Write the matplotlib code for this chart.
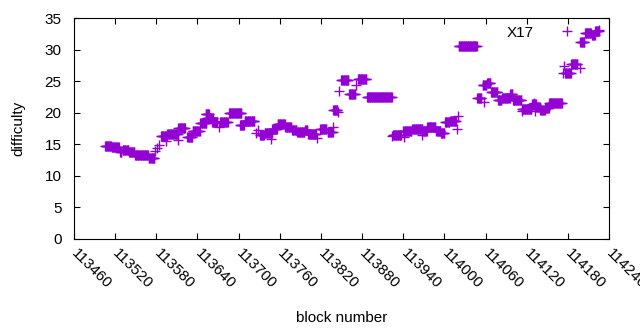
import numpy as np
import matplotlib
matplotlib.use("Agg")
import matplotlib.pyplot as plt

plt.rcParams['font.family'] = ['Liberation Sans', 'DejaVu Sans']
plt.rcParams['font.size'] = 11

# runs of blocks sharing one difficulty: [start, end) block, difficulty
run_start = [113505, 113515, 113527, 113531, 113540, 113549, 113569, 113587, 113596, 113612,
             113625, 113633, 113644, 113652, 113654, 113661, 113673, 113686, 113702, 113709,
             113731, 113738, 113749, 113757, 113768, 113778, 113785, 113797, 113801, 113819,
             113830, 113838, 113849, 113861, 113874, 113887, 113925, 113940, 113953, 113969,
             113975, 113988, 113995, 114001, 114008, 114021, 114048, 114056, 114062, 114068,
             114078, 114084, 114096, 114100, 114113, 114128, 114134, 114140, 114147, 114153,
             114176, 114185, 114198, 114205, 114215, 114220]
run_end = [113515, 113526, 113530, 113540, 113549, 113569, 113578, 113596, 113612, 113623,
           113633, 113644, 113654, 113658, 113663, 113670, 113685, 113705, 113709, 113724,
           113738, 113749, 113757, 113768, 113778, 113785, 113797, 113801, 113814, 113829,
           113838, 113845, 113861, 113871, 113887, 113924, 113938, 113953, 113969, 113975,
           113988, 113995, 114001, 114008, 114018, 114048, 114055, 114062, 114068, 114078,
           114084, 114096, 114100, 114113, 114128, 114134, 114140, 114147, 114153, 114172,
           114185, 114195, 114205, 114215, 114220, 114226]
run_diff = [14.7, 14.6, 13.8, 14.1, 13.8, 13.3, 12.8, 16.3, 16.6, 17.6,
            16.2, 17.1, 18.4, 19.8, 19.2, 18.5, 18.5, 20.0, 18.1, 18.7,
            16.5, 16.8, 17.4, 18.2, 17.7, 17.3, 16.9, 17.3, 16.6, 17.4,
            16.9, 20.4, 25.2, 23.0, 25.3, 22.5, 16.5, 17.1, 17.4, 17.1,
            17.7, 17.1, 16.8, 18.5, 18.7, 30.6, 22.3, 24.4, 24.7, 23.3,
            22.0, 22.3, 23.0, 22.0, 20.6, 21.4, 20.9, 20.4, 20.7, 21.5,
            26.3, 27.7, 31.2, 32.6, 32.3, 33.0]

# single outlying blocks
single_block = [113578, 113581, 113584, 113594, 113611, 113671, 113725, 113728, 113747, 113814,
                113838, 113845, 113847, 113871, 113924, 113941, 113967, 114018, 114020, 114058,
                114113, 114131, 114132, 114173, 114175, 114198, 114226]
single_diff = [13.9, 14.4, 14.9, 15.5, 15.6, 17.7, 16.8, 17.3, 15.8, 16.0,
               17.7, 20.1, 23.4, 24.4, 16.3, 16.2, 16.5, 17.4, 19.5, 21.7,
               20.3, 21.5, 20.2, 26.3, 27.4, 27.1, 33.1]

blocks = []
diffs = []
for s, e, d in zip(run_start, run_end, run_diff):
    b = np.arange(s, e)
    blocks.extend(b)
    diffs.extend([d] * len(b))
blocks.extend(single_block)
diffs.extend(single_diff)
order = np.argsort(blocks, kind='stable')
blocks = np.array(blocks)[order]
diffs = np.array(diffs)[order]

fig = plt.figure(figsize=(6.4, 3.3), dpi=100)
ax = fig.add_axes([74 / 640, 91 / 330, 535 / 640, 221 / 330])

ax.plot(blocks, diffs, linestyle='none', marker='+', ms=6.5, mew=1.0,
        color='#9400d3', label='X17')

ax.set_xlim(113460, 114240)
ax.set_ylim(0, 35)
ax.set_xticks(np.arange(113460, 114241, 60))
ax.set_yticks(np.arange(0, 36, 5))
ax.tick_params(direction='in', length=4, width=0.8, top=True, right=True, colors='black')
ax.tick_params(axis='x', pad=9)
ax.tick_params(axis='y', pad=9)
for lab in ax.get_xticklabels():
    lab.set_rotation(-45)
    lab.set_ha('left')
    lab.set_va('center')
    lab.set_rotation_mode('anchor')
for sp in ax.spines.values():
    sp.set_linewidth(0.8)

ax.set_xlabel('block number', labelpad=14)
ax.set_ylabel('difficulty', labelpad=14)

ax.legend(loc='upper right', bbox_to_anchor=(0.979, 0.965), frameon=False,
          markerfirst=False, handlelength=4, handletextpad=0.22,
          borderpad=0, borderaxespad=0)

fig.savefig('out.png', dpi=100)
